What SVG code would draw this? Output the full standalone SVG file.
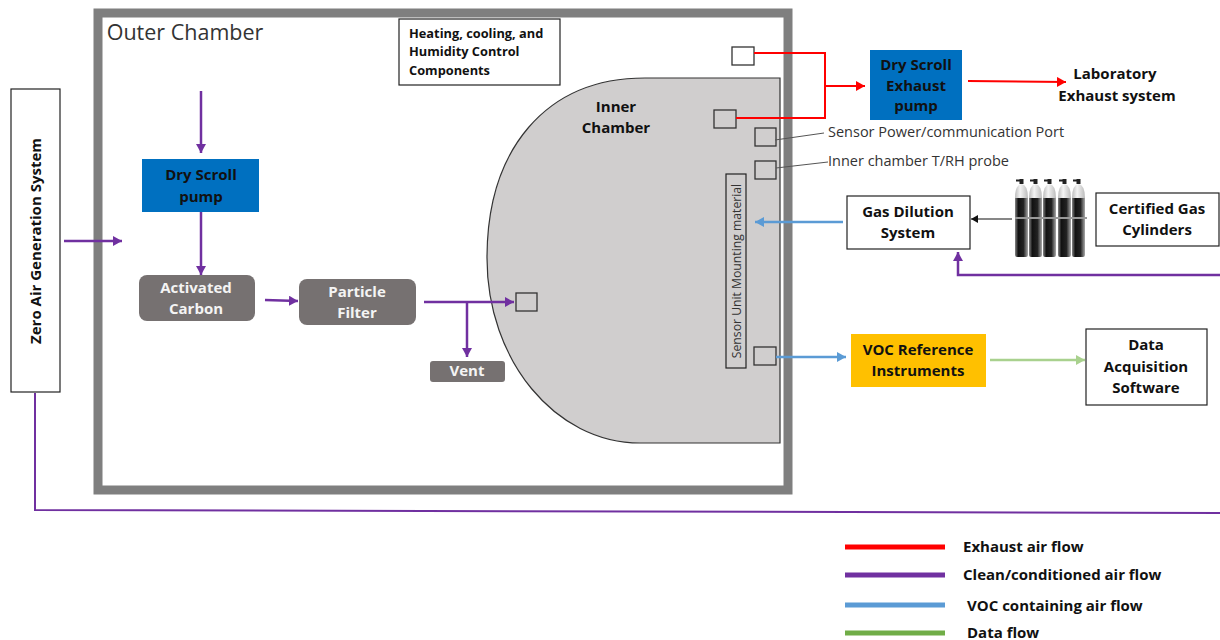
<svg xmlns="http://www.w3.org/2000/svg" width="1220" height="640" viewBox="0 0 1220 640">
<defs>
<marker id="ap" markerUnits="userSpaceOnUse" markerWidth="10" markerHeight="10" refX="9" refY="5" orient="auto"><path d="M0 0L9 5L0 10Z" fill="#7030a0"/></marker>
<marker id="ar" markerUnits="userSpaceOnUse" markerWidth="10" markerHeight="10" refX="9" refY="5" orient="auto"><path d="M0 0L9 5L0 10Z" fill="#f00"/></marker>
<marker id="ab" markerUnits="userSpaceOnUse" markerWidth="10" markerHeight="10" refX="9" refY="5" orient="auto"><path d="M0 0L9 5L0 10Z" fill="#5b9bd5"/></marker>
<marker id="ag" markerUnits="userSpaceOnUse" markerWidth="10" markerHeight="10" refX="9" refY="5" orient="auto"><path d="M0 0L9 5L0 10Z" fill="#a9d18e"/></marker>
<marker id="ak" markerUnits="userSpaceOnUse" markerWidth="8" markerHeight="8" refX="7" refY="4" orient="auto"><path d="M0 0L7 4L0 8Z" fill="#111"/></marker>
<linearGradient id="cyl" x1="0" x2="1" y1="0" y2="0"><stop offset="0" stop-color="#888"/><stop offset=".25" stop-color="#111"/><stop offset=".65" stop-color="#222"/><stop offset="1" stop-color="#aaa"/></linearGradient>
<linearGradient id="shoulder" x1="0" x2="1" y1="0" y2="0"><stop offset="0" stop-color="#bbb"/><stop offset=".4" stop-color="#f4f4f4"/><stop offset="1" stop-color="#bbb"/></linearGradient>
<g id="bottle"><path d="M0 22Q0 9 6.500 8Q13 9 13 22Z" fill="url(#shoulder)"/><rect x="4.500" y="3" width="4" height="5" fill="#222"/><rect x="1" y="3.500" width="4" height="2" fill="#222"/><path d="M0 22H13V79Q13 81 11 81H2Q0 81 0 79Z" fill="url(#cyl)"/><rect y="41" width="15" height="2" fill="#999"/></g>
</defs>
<style>
text{font-family:"Open Sans","Noto Sans","Liberation Sans",sans-serif;text-anchor:middle;fill:#111}
.b{font-weight:700;font-size:15px}
.r{font-size:14.500px;text-anchor:start;fill:#333}
.w{font-weight:700;font-size:15px;fill:#f4f4f4}
.l{font-weight:700;font-size:15px;text-anchor:start}
.s{font-weight:700;font-size:12.800px;text-anchor:start}
.box{fill:#fff;stroke:#222;stroke-width:1.200}
.sq{fill:none;stroke:#333;stroke-width:1.300}
.grey{fill:#767171}
.pump{fill:#0070c0}
.c{fill:none;stroke-width:2.500}
.p{stroke:#7030a0}.red{stroke:#f00}.bl{stroke:#5b9bd5}.g{stroke:#a9d18e}
</style>
<g id="outer-chamber"><rect x="98" y="13" width="690" height="477" fill="#fff" stroke="#7f7f7f" stroke-width="9"/><text x="185" y="40" font-size="21.500" style="fill:#333">Outer Chamber</text></g>
<g id="inner-chamber"><path d="M780 78H645C545 78 487 150 487 258C487 360 555 443 640 443H780Z" fill="#d0cece" stroke="#333" stroke-width="1.200"/><text class="b" x="616" y="112">Inner</text><text class="b" x="616" y="133">Chamber</text></g>
<g id="zero-air"><rect class="box" x="11" y="89" width="49" height="303"/><text class="b" transform="translate(41 241) rotate(-90)">Zero Air Generation System</text></g>
<g id="control"><rect class="box" x="399" y="19" width="161" height="66"/><text class="s" x="409" y="38">Heating, cooling, and</text><text class="s" x="409" y="56">Humidity Control</text><text class="s" x="409" y="75">Components</text></g>
<g id="dry-scroll"><rect class="pump" x="142" y="159" width="117" height="53"/><text class="b" x="201" y="180">Dry Scroll</text><text class="b" x="201" y="202">pump</text></g>
<g id="carbon"><rect class="grey" x="139" y="275" width="116" height="46" rx="8"/><text class="w" x="196" y="293">Activated</text><text class="w" x="196" y="314">Carbon</text></g>
<g id="filter"><rect class="grey" x="299" y="279" width="117" height="46" rx="8"/><text class="w" x="357" y="297">Particle</text><text class="w" x="357" y="318">Filter</text></g>
<g id="vent"><rect class="grey" x="430" y="361" width="75" height="21" rx="3"/><text class="w" x="467" y="376">Vent</text></g>
<g id="mount"><rect x="726" y="174" width="20" height="194" fill="#d0cece" stroke="#222" stroke-width="1.200"/><text transform="translate(741 271) rotate(-90)" font-size="12.200" style="fill:#333">Sensor Unit Mounting material</text></g>
<g id="ports">
<rect x="732" y="47" width="22" height="18" fill="#fff" stroke="#333" stroke-width="1.300"/>
<rect class="sq" x="714" y="110" width="22" height="18"/>
<rect class="sq" x="755" y="128" width="21" height="18"/>
<rect class="sq" x="755" y="161" width="21" height="18"/>
<rect class="sq" x="516" y="293" width="21" height="18"/>
<rect class="sq" x="754" y="347" width="22" height="18"/>
</g>
<g id="exhaust-pump"><rect class="pump" x="870" y="50" width="92" height="70"/><text class="b" x="916" y="70">Dry Scroll</text><text class="b" x="916" y="91">Exhaust</text><text class="b" x="916" y="111">pump</text></g>
<g id="lab-exhaust"><text class="b" x="1115" y="79">Laboratory</text><text class="b" x="1117" y="101">Exhaust system</text></g>
<g id="port-labels"><text class="r" x="828" y="137">Sensor Power/communication Port</text><text class="r" x="828" y="166">Inner chamber T/RH probe</text></g>
<g id="gas-dilution"><rect class="box" x="847" y="196" width="123" height="53"/><text class="b" x="908" y="217">Gas Dilution</text><text class="b" x="908" y="238">System</text></g>
<g id="cylinders"><use href="#bottle" x="1015" y="176"/><use href="#bottle" x="1029" y="176"/><use href="#bottle" x="1043" y="176"/><use href="#bottle" x="1058" y="176"/><use href="#bottle" x="1072" y="176"/></g>
<g id="certified"><rect class="box" x="1096" y="193" width="123" height="53"/><text class="b" x="1157" y="214">Certified Gas</text><text class="b" x="1157" y="235">Cylinders</text></g>
<g id="voc"><rect x="851" y="334" width="135" height="53" fill="#ffc000"/><text class="b" x="918" y="355">VOC Reference</text><text class="b" x="918" y="376">Instruments</text></g>
<g id="daq"><rect class="box" x="1086" y="329" width="121" height="76"/><text class="b" x="1146" y="350">Data</text><text class="b" x="1146" y="372">Acquisition</text><text class="b" x="1146" y="393">Software</text></g>
<g id="connectors">
<path class="c p" d="M64 241H122" marker-end="url(#ap)"/>
<path class="c p" d="M201 91V153" marker-end="url(#ap)"/>
<path class="c p" d="M201 212V275" marker-end="url(#ap)"/>
<path class="c p" d="M265 300L298 301" marker-end="url(#ap)"/>
<path class="c p" d="M424 302H514" marker-end="url(#ap)"/>
<path class="c p" d="M467 302V357" marker-end="url(#ap)"/>
<path class="c p" style="stroke-width:2" d="M35 393V510L1220 513"/>
<path class="c p" d="M1220 275H958V252" marker-end="url(#ap)"/>
<path class="c red" style="stroke-width:2" d="M754 53H825V118H736"/>
<path class="c red" style="stroke-width:2" d="M825 86H865" marker-end="url(#ar)"/>
<path class="c red" style="stroke-width:2" d="M968 81L1066 82" marker-end="url(#ar)"/>
<path class="c bl" d="M843 222H755" marker-end="url(#ab)"/>
<path class="c bl" d="M776 357H846" marker-end="url(#ab)"/>
<path class="c g" d="M990 360H1085" marker-end="url(#ag)"/>
<path fill="none" stroke="#111" stroke-width="1.200" d="M1012 219H971" marker-end="url(#ak)"/>
<path fill="none" stroke="#555" stroke-width="1" d="M775 140L824 133M776 168L828 162"/>
</g>
<g id="legend">
<path fill="none" stroke-width="5" stroke="#f00" d="M845 547H945"/><text class="l" x="963" y="552">Exhaust air flow</text>
<path fill="none" stroke-width="5" stroke="#7030a0" d="M845 575H945"/><text class="l" x="963" y="580">Clean/conditioned air flow</text>
<path fill="none" stroke-width="5" stroke="#5b9bd5" d="M845 605H945"/><text class="l" x="967" y="611">VOC containing air flow</text>
<path fill="none" stroke-width="5" stroke="#70ad47" d="M845 633H945"/><text class="l" x="967" y="638">Data flow</text>
</g>
</svg>
